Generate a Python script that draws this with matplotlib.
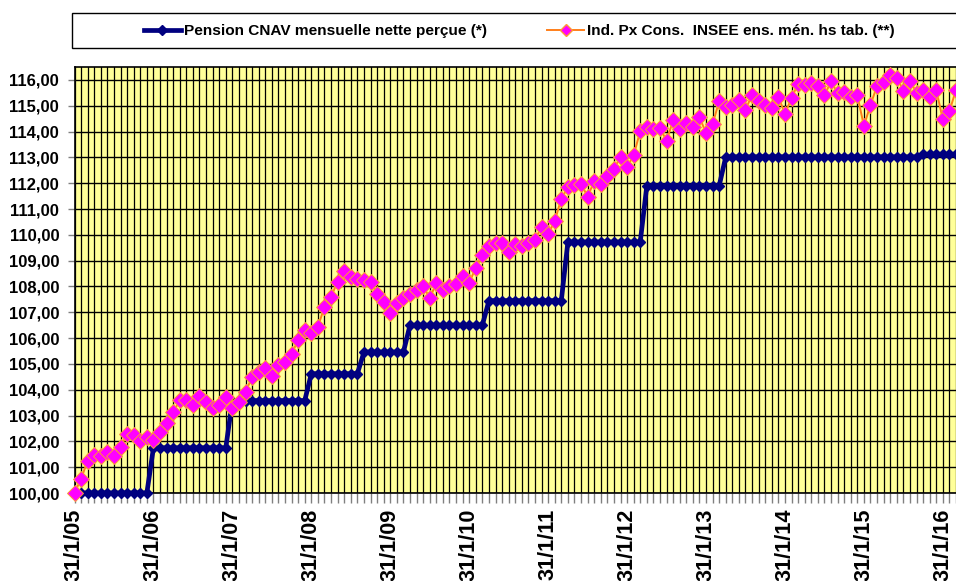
import matplotlib
matplotlib.use('Agg')
import matplotlib.pyplot as plt
from matplotlib.ticker import FuncFormatter
from matplotlib.lines import Line2D
from matplotlib.patches import Rectangle

plt.rcParams['font.family'] = ['Liberation Sans', 'DejaVu Sans']

# ---- data (monthly, month index 0 = 31/1/05) ----
cnav = ([100.00] * 12 + [101.75] * 12 + [103.58] * 12 + [104.62] * 8 +
        [105.46] * 7 + [106.50] * 12 + [107.45] * 12 + [109.72] * 12 +
        [111.90] * 12 + [113.02] * 30 + [113.12] * 6)

cpi = [100.00, 100.55, 101.25, 101.47, 101.45, 101.60, 101.45, 101.80, 102.28, 102.25, 102.02, 102.18,
       102.05, 102.38, 102.70, 103.12, 103.60, 103.60, 103.40, 103.76, 103.54, 103.28, 103.40, 103.70,
       103.30, 103.54, 103.93, 104.48, 104.70, 104.83, 104.52, 104.96, 105.09, 105.38, 105.93, 106.32,
       106.20, 106.43, 107.22, 107.60, 108.19, 108.58, 108.38, 108.30, 108.25, 108.19, 107.70, 107.41,
       106.96, 107.36, 107.54, 107.70, 107.88, 108.03, 107.54, 108.13, 107.85, 108.00, 108.10, 108.40,
       108.14, 108.73, 109.22, 109.58, 109.68, 109.67, 109.33, 109.66, 109.55, 109.68, 109.80, 110.32,
       110.03, 110.53, 111.40, 111.84, 111.92, 111.98, 111.48, 112.07, 111.96, 112.26, 112.55, 113.02,
       112.64, 113.08, 114.02, 114.17, 114.10, 114.13, 113.65, 114.43, 114.10, 114.33, 114.18, 114.56,
       113.94, 114.30, 115.17, 114.97, 115.01, 115.23, 114.84, 115.43, 115.17, 115.01, 114.93, 115.34,
       114.69, 115.30, 115.86, 115.80, 115.88, 115.77, 115.40, 115.94, 115.49, 115.55, 115.32, 115.40,
       114.22, 115.03, 115.77, 115.90, 116.20, 116.09, 115.58, 115.97, 115.51, 115.62, 115.35, 115.60,
       114.47, 114.78, 115.62]

year_tick_months = [0, 12, 24, 36, 48, 60, 72, 84, 96, 108, 120, 132]
year_tick_labels = ['31/1/05', '31/1/06', '31/1/07', '31/1/08', '31/1/09', '31/1/10',
                    '31/1/11', '31/1/12', '31/1/13', '31/1/14', '31/1/15', '31/1/16']

label_cnav = 'Pension CNAV mensuelle nette perçue (*)'
label_cpi = 'Ind. Px Cons.  INSEE ens. mén. hs tab. (**)'

months = list(range(len(cpi)))

# ---- figure ----
W, H = 956, 581
fig = plt.figure(figsize=(W / 100, H / 100), dpi=100)
left_px, right_px, top_px, bottom_px = 74.5, 956, 67, 493
ax = fig.add_axes([left_px / W, 1 - bottom_px / H, (right_px - left_px) / W, (bottom_px - top_px) / H])
ax.set_facecolor('#FFFF99')

ax.plot(months, cnav, color='#000080', lw=3.4, marker='D', ms=5, mfc='#000080', mec='#000080',
        zorder=3, clip_on=False)
ax.plot(months, cpi, color='#FF7F1A', lw=1.4, marker='D', ms=8.3, mfc='#FF00FF', mec='#FF9933',
        mew=0.7, zorder=4, clip_on=False)

ax.set_xlim(0, 134.0)
ax.set_ylim(100, 116.5)

ax.set_xticks(year_tick_months)
ax.set_xticklabels(year_tick_labels, rotation=90, fontsize=15.6, fontweight='bold', va='top')
ax.set_xticks(months, minor=True)
ax.tick_params(axis='x', which='both', length=7, color='#808080', width=1, pad=4)

ax.set_yticks(range(100, 117))
ax.yaxis.set_major_formatter(FuncFormatter(lambda v, p: f'{v:.2f}'.replace('.', ',')))
ax.tick_params(axis='y', length=5, width=1, color='#808080', pad=6, labelsize=12)
for t in ax.get_yticklabels():
    t.set_fontweight('bold')

ax.grid(True, which='major', axis='y', color='black', lw=1.0)
ax.grid(True, which='both', axis='x', color='black', lw=0.9)
ax.set_axisbelow(True)

for s in ['left', 'bottom', 'top']:
    ax.spines[s].set_color('black')
    ax.spines[s].set_linewidth(1.2)
ax.spines['right'].set_visible(False)

# ---- legend ----
fig.patches.append(Rectangle((72 / W, 1 - 48 / H), (990 - 72) / W, 35 / H, transform=fig.transFigure,
                             facecolor='white', edgecolor='black', lw=1.0, zorder=0))
h1 = Line2D([], [], color='#000080', lw=3.4, marker='D', ms=5, mfc='#000080', mec='#000080')
h2 = Line2D([], [], color='#FF7F1A', lw=1.4, marker='D', ms=6, mfc='#FF00FF', mec='#FF9933')
leg = fig.legend([h1, h2], [label_cnav, label_cpi], loc='center left', ncol=2,
                 bbox_to_anchor=(130 / W, 1 - 31 / H), frameon=False, numpoints=1,
                 handlelength=2.4, handletextpad=0.2, columnspacing=3.9,
                 prop={'family': ['Liberation Sans', 'DejaVu Sans'], 'weight': 'bold', 'size': 11.1})

fig.savefig('out.png', dpi=100)
